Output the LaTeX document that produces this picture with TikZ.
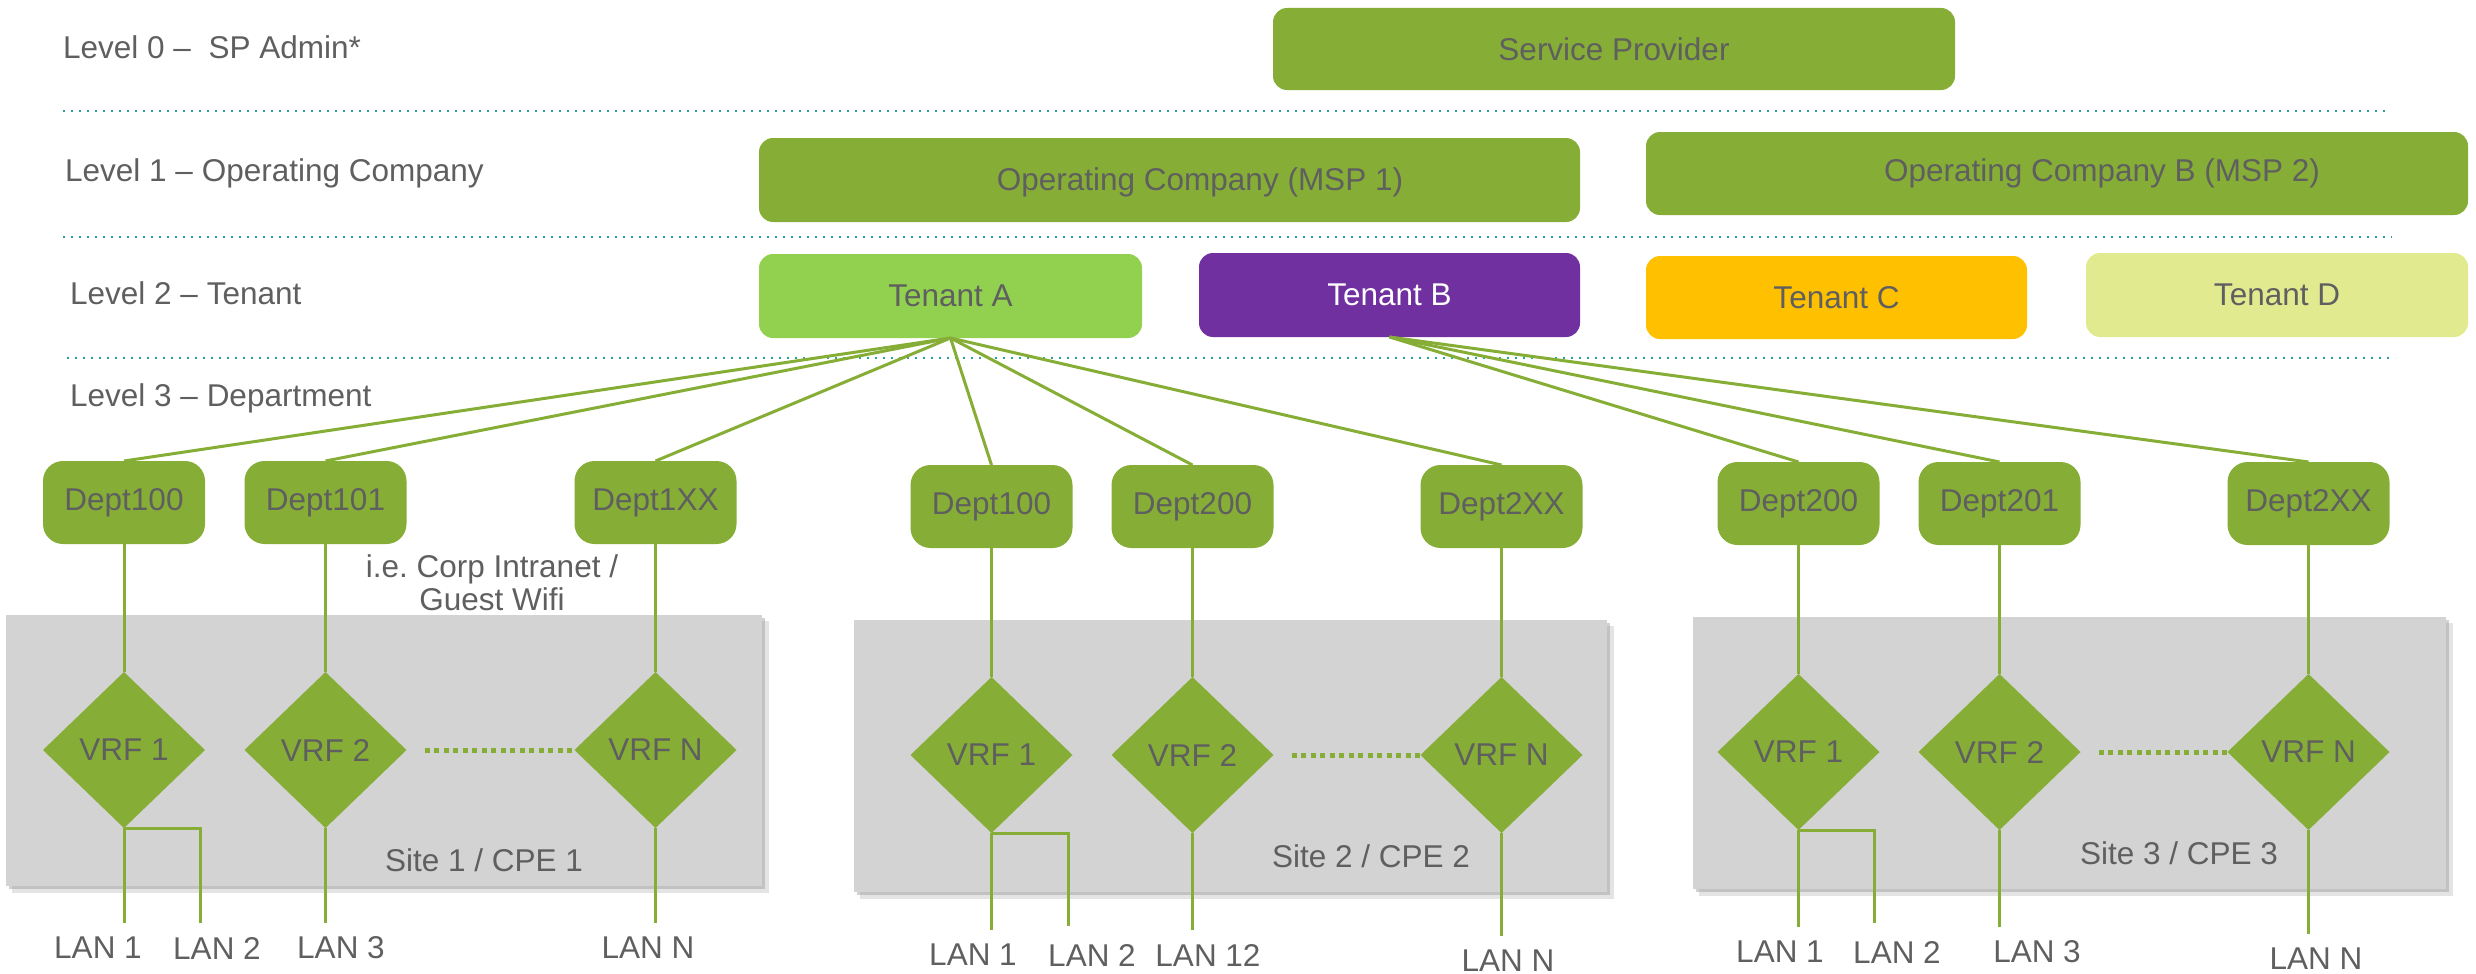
\documentclass[tikz,border=0pt]{standalone}
\usepackage{fontspec}
\setmainfont{Liberation Sans}
\usetikzlibrary{shapes.geometric}
\definecolor{gr}{HTML}{86AE36}
\definecolor{tenA}{HTML}{92D050}
\definecolor{tenB}{HTML}{7030A0}
\definecolor{tenC}{HTML}{FFC000}
\definecolor{tenD}{HTML}{E2EA8F}
\definecolor{txt}{HTML}{5F5F5F}
\definecolor{teal}{HTML}{2B9FA2}
\definecolor{site}{HTML}{D3D3D3}
\begin{document}
\frenchspacing
\begin{tikzpicture}[x=1pt,y=-1pt,
  every node/.style={font=\fontsize{31.5}{33}\selectfont, text=txt},
  box/.style={rectangle, rounded corners=14pt, inner sep=0pt, outer sep=0pt},
  gbox/.style={box, fill=gr},
  dept/.style={box, fill=gr, rounded corners=20pt, minimum width=162pt, minimum height=83pt},
  vrf/.style={diamond, fill=gr, inner sep=0pt, outer sep=0pt, minimum width=162pt, minimum height=156pt},
  lvl/.style={anchor=west, inner sep=0pt},
  lan/.style={inner xsep=0pt, inner ysep=14pt},
  sep/.style={teal, line width=2.6pt, dash pattern=on 2pt off 6pt},
  conn/.style={gr, line width=3pt},
  dots/.style={gr, line width=5pt, dash pattern=on 5pt off 4.5pt, shorten <=18pt},
  sitebox/.style={fill=site},
  shadowA/.style={fill=black!30, opacity=0.35},
  shadowB/.style={fill=black!40, opacity=0.45}
]
\useasboundingbox (0,0) rectangle (2476,974);

% separators
\draw[sep] (63,111) -- (2390,111);
\draw[sep] (63,237) -- (2392,237);
\draw[sep] (67,358) -- (2395,358);

% level labels
\node[lvl] (l0) at (63,47) {Level 0 –\ \ SP Admin*};
\node[lvl] (l1) at (65,173) {Level 1 – Operating Company};
\node[lvl] (l2) at (70,293) {Level 2 – Tenant};
\node[lvl] (l3) at (70,398) {Level 3 – Department};

% top boxes
\node[gbox, minimum width=682pt, minimum height=82pt] (sp) at (1614,49) {Service Provider};
\node[gbox, minimum width=821pt, minimum height=84pt] (op1) at (1169.5,180) {};
\node (op1t) at (1200,182) {Operating Company (MSP 1)};
\node[gbox, minimum width=822pt, minimum height=83pt] (op2) at (2057,173.5) {};
\node (op2t) at (2102,173.5) {Operating Company B (MSP 2)};

% tenants
\node[box, fill=tenA, minimum width=383pt, minimum height=84pt] (tA) at (950.5,296) {Tenant A};
\node[box, fill=tenB, minimum width=381pt, minimum height=84pt, text=white] (tB) at (1389.5,295) {Tenant B};
\node[box, fill=tenC, minimum width=381pt, minimum height=83pt] (tC) at (1836.5,297.5) {Tenant C};
\node[box, fill=tenD, minimum width=382pt, minimum height=84pt] (tD) at (2277,295) {Tenant D};

% site boxes with soft shadow
\fill[shadowA] (12,621) rectangle (769,893);
\fill[shadowB] (9,618) rectangle (765,889);
\fill[sitebox] (6,615) rectangle (762,886);
\fill[shadowA] (860,626) rectangle (1614,899);
\fill[shadowB] (857,623) rectangle (1610,895);
\fill[sitebox] (854,620) rectangle (1607,892);
\fill[shadowA] (1699,623) rectangle (2453,896);
\fill[shadowB] (1696,620) rectangle (2449,892);
\fill[sitebox] (1693,617) rectangle (2446,889);

% departments
\node[dept] (d11) at (124,502.5) {Dept100};
\node[dept] (d12) at (325.5,502.5) {Dept101};
\node[dept] (d13) at (655.5,502.5) {Dept1XX};
\node[dept] (d21) at (991.5,506.5) {Dept100};
\node[dept] (d22) at (1192.5,506.5) {Dept200};
\node[dept] (d23) at (1501.5,506.5) {Dept2XX};
\node[dept] (d31) at (1798.5,503.5) {Dept200};
\node[dept] (d32) at (1999.5,503.5) {Dept201};
\node[dept] (d33) at (2308.5,503.5) {Dept2XX};

% fan lines
\foreach \d in {d11,d12,d13,d21,d22,d23} \draw[conn] (tA.south) -- (\d.north);
\foreach \d in {d31,d32,d33} \draw[conn] (tB.south) -- (\d.north);

% annotation
\node[align=center] (note) at (492,583) {i.e. Corp Intranet /\\Guest Wifi};

% vrfs
\node[vrf] (v11) at (124,750) {VRF 1};
\node[vrf] (v12) at (325.5,750) {VRF 2};
\node[vrf] (v13) at (655.5,750) {VRF N};
\node[vrf] (v21) at (991.5,755) {VRF 1};
\node[vrf] (v22) at (1192.5,755) {VRF 2};
\node[vrf] (v23) at (1501.5,755) {VRF N};
\node[vrf] (v31) at (1798.5,752) {VRF 1};
\node[vrf] (v32) at (1999.5,752) {VRF 2};
\node[vrf] (v33) at (2308.5,752) {VRF N};

\foreach \i in {11,12,13,21,22,23,31,32,33} \draw[conn] (d\i.south) -- (v\i.north);

\draw[dots] (v12.east) -- (v13.west);
\draw[dots] (v22.east) -- (v23.west);
\draw[dots] (v32.east) -- (v33.west);

% site labels
\node (s1) at (484,860) {Site 1 / CPE 1};
\node (s2) at (1371,856) {Site 2 / CPE 2};
\node (s3) at (2179,853) {Site 3 / CPE 3};

% LAN labels
\node[lan] (a1) at (98,948) {LAN 1};
\node[lan] (a2) at (217,948) {LAN 2};
\node[lan] (a3) at (341,948) {LAN 3};
\node[lan] (a4) at (648,948) {LAN N};
\node[lan] (b1) at (973,955) {LAN 1};
\node[lan] (b2) at (1092,955) {LAN 2};
\node[lan] (b3) at (1208,955) {LAN 12};
\node[lan] (b4) at (1508,961) {LAN N};
\node[lan] (c1) at (1780,952) {LAN 1};
\node[lan] (c2) at (1897,952) {LAN 2};
\node[lan] (c3) at (2037,952) {LAN 3};
\node[lan] (c4) at (2316,959) {LAN N};

\coordinate (a2e) at (200,923);
\coordinate (b2e) at (1068,926);
\coordinate (c2e) at (1874,923);

\draw[conn] (v11.south) -- (v11.south |- a1.north);
\draw[conn] (v11.south) -| (a2e);
\draw[conn] (v12.south) -- (v12.south |- a3.north);
\draw[conn] (v13.south) -- (v13.south |- a4.north);
\draw[conn] (v21.south) -- (v21.south |- b1.north);
\draw[conn] (v21.south) -| (b2e);
\draw[conn] (v22.south) -- (v22.south |- b3.north);
\draw[conn] (v23.south) -- (v23.south |- b4.north);
\draw[conn] (v31.south) -- (v31.south |- c1.north);
\draw[conn] (v31.south) -| (c2e);
\draw[conn] (v32.south) -- (v32.south |- c3.north);
\draw[conn] (v33.south) -- (v33.south |- c4.north);
\end{tikzpicture}
\end{document}
